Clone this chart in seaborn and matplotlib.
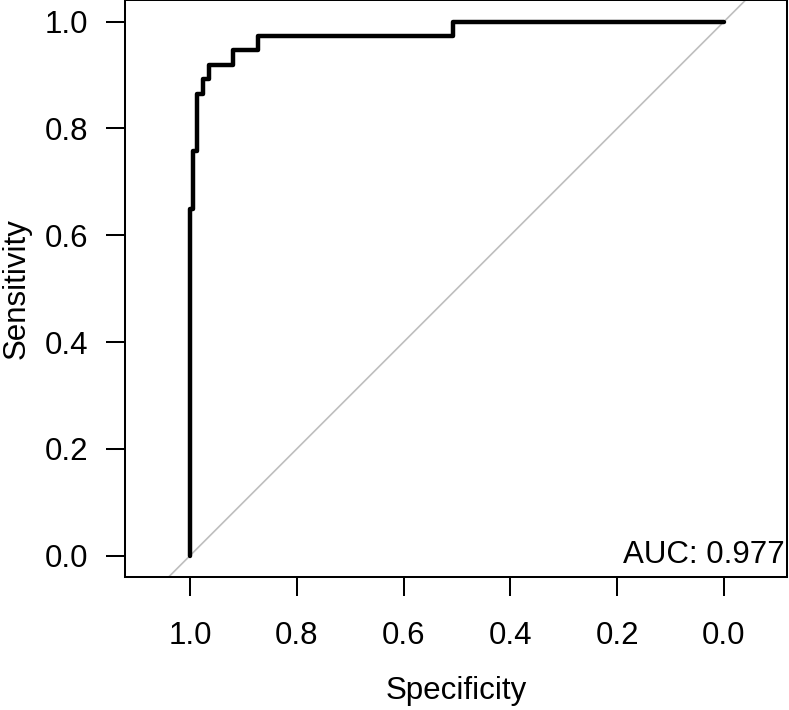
import matplotlib
matplotlib.use('Agg')
import matplotlib.pyplot as plt
import seaborn as sns
import pandas as pd

# ROC curve corner points
specificity = [1.0, 1.0, 0.9938, 0.9863, 0.9762, 0.9639, 0.920, 0.873, 0.508, 0.0]
sensitivity = [0.0, 0.649, 0.757, 0.865, 0.892, 0.919, 0.946, 0.973, 1.0, 1.0]
auc_value = 0.977
tick_values = [1.0, 0.8, 0.6, 0.4, 0.2, 0.0]

sns.set_theme(style='ticks')
plt.rcParams['font.family'] = ['Liberation Sans', 'DejaVu Sans']

roc = pd.DataFrame({'Specificity': specificity, 'Sensitivity': sensitivity})

fig = plt.figure(figsize=(7.89, 7.10), dpi=100)
ax = fig.add_axes([0.15906, 0.18732, 0.8384, 0.8123])

ax.axline((1, 0), (0, 1), color='#BEBEBE', lw=1.2, zorder=1)
sns.lineplot(data=roc, x='Specificity', y='Sensitivity', sort=False, estimator=None,
             drawstyle='steps-post', color='black', lw=3.2, ax=ax, zorder=3)

ax.set_xlim(1.1208, -0.118)
ax.set_ylim(-0.04, 1.04)
ax.set_xticks(tick_values)
ax.set_yticks(tick_values)
ax.set_xticklabels([f'{v:.1f}' for v in tick_values])
ax.set_yticklabels([f'{v:.1f}' for v in tick_values])

for s in ax.spines.values():
    s.set_visible(True)
    s.set_linewidth(1.45)
    s.set_color('black')

ax.tick_params(axis='x', length=14, width=1.45, pad=18, labelsize=22.5, colors='black')
ax.tick_params(axis='y', length=14, width=1.45, pad=13, labelsize=22.5, colors='black')

ax.set_xlabel('Specificity', fontsize=22.5, labelpad=18, color='black')
ax.set_ylabel('Sensitivity', fontsize=22.5, labelpad=9, color='black')

ax.text(-0.114, -0.013, f'AUC: {auc_value:.3f}', ha='right', va='baseline',
        fontsize=22.5, color='black')

fig.savefig('out.png', dpi=100)
